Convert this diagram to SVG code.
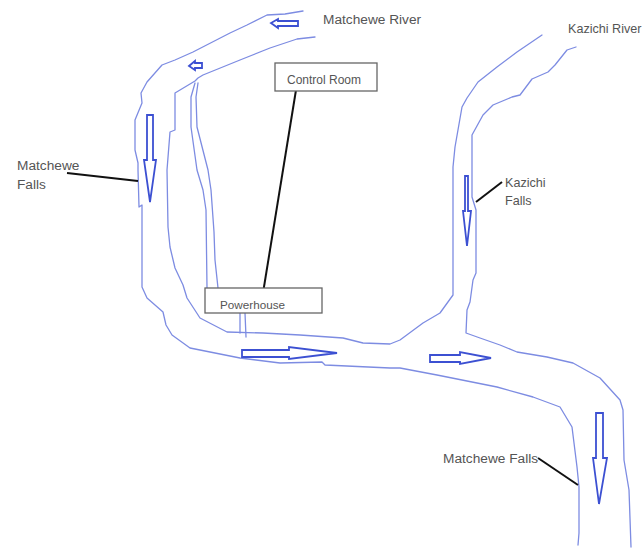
<svg xmlns="http://www.w3.org/2000/svg" width="643" height="550" viewBox="0 0 643 550">
<style>
.bank{fill:none;stroke:#7d8ce2;stroke-width:1.3;stroke-linejoin:round;stroke-linecap:round}
.flow{fill:#fff;stroke:#3c50d2;stroke-width:1.8;stroke-linejoin:miter}
.lead{fill:none;stroke:#111;stroke-width:2}
.box{fill:#fff;stroke:#666;stroke-width:1.3}
text{font-family:"Liberation Sans",Arial,sans-serif;font-size:12px;fill:#555}
.big{font-size:13.7px}
.mid{font-size:12.6px}
</style>
<rect width="643" height="550" fill="#fff"/>
<g id="connectors">
<polyline class="bank" points="303,11 285,14 267,15 247,25 230,33 193,52 175,60 162,65 147,82 141,93 142,103 135,120 135,150 138,163 138,170 139,207 142,205 142,287 147,298 163,312 166,325 172,335 190,348 240,358 280,363 322,362 325,365 390,368 400,368 437,375 497,387 533,397 560,407 572,427 577,467 579,487 579,533 578,545"/>
<polyline class="bank" points="315,37 297,39 270,48 240,60 203,75 198,78 195,81 175,93 175,130 170,132 167,170 168,227 170,247 175,268 183,285 187,298 200,318 227,332 263,333 300,335 343,338 363,343 390,344 400,340 423,323 440,313 453,295 453,167 455,147 462,107 467,98 478,82 497,67 517,52 542,35"/>
<polyline class="bank" points="576,47 567,50 555,65 548,72 532,79 520,95 512,97 493,105 483,115 472,135 472,197 476,210 476,273 473,280 470,302 467,310 466,333 480,338 500,345 517,352 547,357 573,363 600,378 620,400 623,410 624,460 629,490 631,547"/>
<polyline class="bank" points="195,83 191,97 191,127 197,170 203,190 206,210 207,288"/>
<polyline class="bank" points="198,83 196,97 197,127 208,170 211,190 214,232 215,260 218,288"/>
<polyline class="bank" points="240,313 240,333"/>
<polyline class="bank" points="245,313 246,337"/>
<line class="lead" x1="296" y1="90" x2="263" y2="293"/>
<line class="lead" x1="67" y1="173" x2="138" y2="181"/>
<line class="lead" x1="502" y1="182" x2="476" y2="202"/>
<line class="lead" x1="538" y1="458" x2="578" y2="485"/>
<polygon class="flow" points="298,21 278,21 278,19 271,23 278,28 278,26 298,26"/>
<polygon class="flow" points="202,63 195,63 195,61 189,66 195,70 195,68 202,68"/>
<polygon class="flow" points="147,115 153,115 153,160 156,160 150,202 144,160 147,160"/>
<polygon class="flow" points="242,350 289,350 289,347 337,353 289,359 289,357 242,357"/>
<polygon class="flow" points="430,355 460,355 460,352 491,358 460,364 460,362 430,362"/>
<polygon class="flow" points="596,413 603,413 603,458 607,458 599,504 593,458 596,458"/>
<polygon class="flow" points="465,176 468,176 468,211 471,211 467,246 463,211 465,211"/>
</g>
<g id="control-room"><rect class="box" x="275" y="63" width="102" height="28"/><text x="287" y="84">Control Room</text></g>
<g id="powerhouse"><rect class="box" x="205" y="288" width="117" height="25"/><text x="220" y="309" style="font-size:11.7px">Powerhouse</text></g>
<g id="matchewe-river"><text class="big" x="323" y="24">Matchewe River</text></g>
<g id="kazichi-river"><text class="mid" x="568" y="33">Kazichi River</text></g>
<g id="matchewe-falls-upper"><text class="big" x="17" y="170">Matchewe</text><text class="big" x="17" y="189">Falls</text></g>
<g id="kazichi-falls"><text class="mid" x="505" y="187">Kazichi</text><text class="mid" x="505" y="205">Falls</text></g>
<g id="matchewe-falls-lower"><text class="big" x="443" y="463">Matchewe Falls</text></g>
</svg>
